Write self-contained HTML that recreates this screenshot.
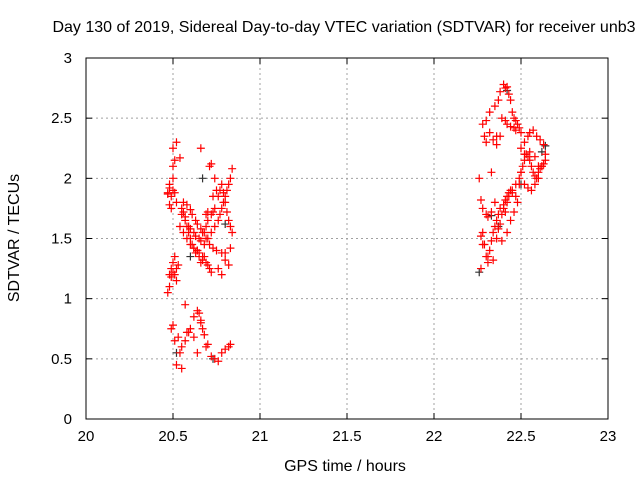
<!DOCTYPE html>
<html><head><meta charset="utf-8"><style>
body{margin:0;background:#fff;}
svg{display:block;font-family:"Liberation Sans",sans-serif;}
</style></head><body>
<svg id="chart" width="640" height="480"></svg>
<script>
const xTicks=[20,20.5,21,21.5,22,22.5,23];
const yTicks=[0,0.5,1,1.5,2,2.5,3];
const redX=[20.47,20.48,20.48,20.49,20.49,20.5,20.5,20.51,20.51,20.52,20.52,20.53,20.48,20.49,20.5,20.51,20.52,20.47,20.48,20.49,20.5,20.5,20.51,20.47,20.48,20.5,20.52,20.54,20.55,20.56,20.57,20.58,20.59,20.6,20.61,20.62,20.63,20.64,20.65,20.66,20.67,20.68,20.69,20.7,20.71,20.72,20.55,20.57,20.59,20.6,20.62,20.63,20.65,20.66,20.68,20.69,20.7,20.72,20.73,20.74,20.56,20.58,20.6,20.61,20.63,20.64,20.66,20.67,20.69,20.71,20.73,20.75,20.54,20.56,20.58,20.6,20.62,20.64,20.65,20.67,20.68,20.7,20.72,20.74,20.76,20.77,20.78,20.79,20.8,20.81,20.82,20.83,20.84,20.76,20.77,20.78,20.79,20.8,20.81,20.82,20.83,20.84,20.78,20.8,20.82,20.76,20.78,20.8,20.83,20.71,20.72,20.74,20.75,20.73,20.7,20.69,20.66,20.5,20.49,20.51,20.53,20.54,20.55,20.57,20.59,20.6,20.62,20.64,20.65,20.66,20.67,20.68,20.7,20.72,20.74,20.76,20.78,20.8,20.82,20.83,20.52,20.55,20.58,20.62,20.66,20.69,20.64,20.57,
22.27,22.28,22.29,22.3,22.31,22.32,22.33,22.27,22.28,22.3,22.31,22.33,22.35,22.27,22.29,22.3,22.32,22.34,22.36,22.28,22.3,22.32,22.35,22.37,22.38,22.4,22.41,22.42,22.43,22.44,22.45,22.46,22.47,22.48,22.49,22.5,22.38,22.39,22.41,22.42,22.44,22.46,22.47,22.36,22.37,22.38,22.4,22.41,22.42,22.43,22.45,22.47,22.49,22.5,22.51,22.52,22.53,22.54,22.55,22.56,22.57,22.58,22.59,22.6,22.61,22.62,22.63,22.64,22.5,22.52,22.54,22.56,22.58,22.6,22.62,22.64,22.5,22.52,22.54,22.55,22.57,22.59,22.61,22.63,22.52,22.55,22.58,22.6,22.33,22.34,22.35,22.36,22.37,22.38,22.39,22.4,22.41,22.42,22.43,22.44,22.45,22.47,22.49,22.26,22.28,22.31,22.34,22.36,22.39,22.42,22.44,22.46,22.48];
const redY=[1.05,1.1,1.2,1.25,1.18,1.22,1.3,1.35,1.2,1.15,1.25,1.28,1.78,1.85,1.9,1.88,1.8,1.87,1.92,1.75,2.0,2.1,2.15,1.88,1.95,2.25,2.3,2.17,1.75,1.72,1.68,1.6,1.55,1.5,1.45,1.42,1.38,1.4,1.35,1.3,1.32,1.35,1.3,1.28,1.25,1.22,1.7,1.65,1.6,1.58,1.55,1.52,1.5,1.48,1.55,1.6,1.65,1.7,1.72,1.75,1.8,1.78,1.74,1.7,1.65,1.62,1.58,1.55,1.5,1.45,1.42,1.4,1.6,1.55,1.5,1.45,1.42,1.4,1.38,1.35,1.45,1.5,1.55,1.6,1.65,1.7,1.75,1.8,1.85,1.9,1.95,2.0,2.08,1.85,1.9,1.95,1.88,1.8,1.72,1.65,1.6,1.55,1.38,1.32,1.28,1.25,1.2,1.38,1.42,2.1,2.12,2.0,1.9,1.85,1.72,1.7,2.25,0.78,0.75,0.65,0.68,0.55,0.6,0.65,0.72,0.75,0.85,0.9,0.88,0.82,0.75,0.7,0.62,0.52,0.5,0.48,0.55,0.58,0.6,0.62,0.45,0.42,0.72,0.68,0.8,0.6,0.55,0.95,1.25,
1.55,1.45,1.35,1.3,1.4,1.48,1.52,1.75,1.7,1.68,1.72,1.8,1.82,2.35,2.3,2.38,2.32,2.28,2.45,2.48,2.55,2.6,2.65,2.72,2.78,2.75,2.76,2.7,2.65,2.55,2.5,2.48,2.45,2.42,2.38,2.35,2.5,2.48,2.45,2.43,2.42,2.4,2.35,1.7,1.75,1.78,1.82,1.85,1.88,1.9,1.95,2.0,2.05,2.1,2.15,2.2,2.18,2.15,2.1,2.05,2.02,2.0,2.05,2.08,2.1,2.12,2.15,2.05,1.95,1.92,1.9,1.95,2.0,2.1,2.2,2.25,2.3,2.35,2.38,2.4,2.35,2.32,2.28,2.2,2.22,2.18,2.1,2.05,1.55,1.6,1.65,1.58,1.62,1.7,1.75,1.72,1.8,1.85,1.9,1.88,1.85,1.95,2.0,1.45,1.35,1.32,1.5,1.48,1.55,1.65,1.72,1.8,1.85];
const grayX=[20.52,20.67,20.8,20.6,20.73,22.26,22.42,22.62,22.64,22.33,22.37,22.5];
const grayY=[0.55,2.0,1.62,1.35,0.5,1.22,2.73,2.22,2.27,1.69,1.6,1.95];
const NS='http://www.w3.org/2000/svg';
const svg=document.getElementById('chart');
const L=86,R=608,T=58,B=419;
const xs=v=>L+(v-20)/3*(R-L);
const ys=v=>B-v/3*(B-T);
function mk(tag,attrs,parent){const e=document.createElementNS(NS,tag);for(const k in attrs)e.setAttribute(k,attrs[k]);(parent||svg).appendChild(e);return e;}
const grid=mk('g',{});


xTicks.forEach(t=>{
  if(t>20&&t<23){const l=mk('line',{x1:xs(t),x2:xs(t),y1:T,y2:B,stroke:'#a0a0a0','stroke-dasharray':'2,3'},grid);
  
  }
  mk('line',{x1:xs(t),x2:xs(t),y1:B,y2:B-6,stroke:'#000'});
  mk('line',{x1:xs(t),x2:xs(t),y1:T,y2:T+6,stroke:'#000'});
  const tx=mk('text',{x:xs(t),y:B+22,'text-anchor':'middle','font-size':'15'});
  tx.textContent=String(t);
  
  
});
yTicks.forEach(t=>{
  if(t>0&&t<3){const l=mk('line',{x1:L,x2:R,y1:ys(t),y2:ys(t),stroke:'#a0a0a0','stroke-dasharray':'2,3'},grid);
  
  }
  mk('line',{x1:L,x2:L+6,y1:ys(t),y2:ys(t),stroke:'#000'});
  mk('line',{x1:R,x2:R-6,y1:ys(t),y2:ys(t),stroke:'#000'});
  const tx=mk('text',{x:L-14,y:ys(t)+5,'text-anchor':'end','font-size':'15'});
  tx.textContent=String(t);
  
  
});
const frame=mk('rect',{x:L,y:T,width:R-L,height:B-T,fill:'none',stroke:'#000'});


function plus(x,y,c,name){
  const p=mk('path',{d:`M${x-4},${y}h8M${x},${y-4}v8`,stroke:c,'stroke-width':'1.2',fill:'none'});
  
  
}
grayX.forEach((v,i)=>plus(xs(v),ys(grayY[i]),'#333','gray-point'));
redX.forEach((v,i)=>plus(xs(v),ys(redY[i]),'#f00','red-point'));
const title=mk('text',{x:344,y:32,'text-anchor':'middle','font-size':'16'});
title.textContent='Day 130 of 2019, Sidereal Day-to-day VTEC variation (SDTVAR) for receiver unb3';


const xl=mk('text',{x:345,y:471,'text-anchor':'middle','font-size':'16'});
xl.textContent='GPS time / hours';


const yl=mk('text',{x:0,y:0,'text-anchor':'middle','font-size':'16',transform:'translate(19,238) rotate(-90)'});
yl.textContent='SDTVAR / TECUs';


</script>
</body></html>
